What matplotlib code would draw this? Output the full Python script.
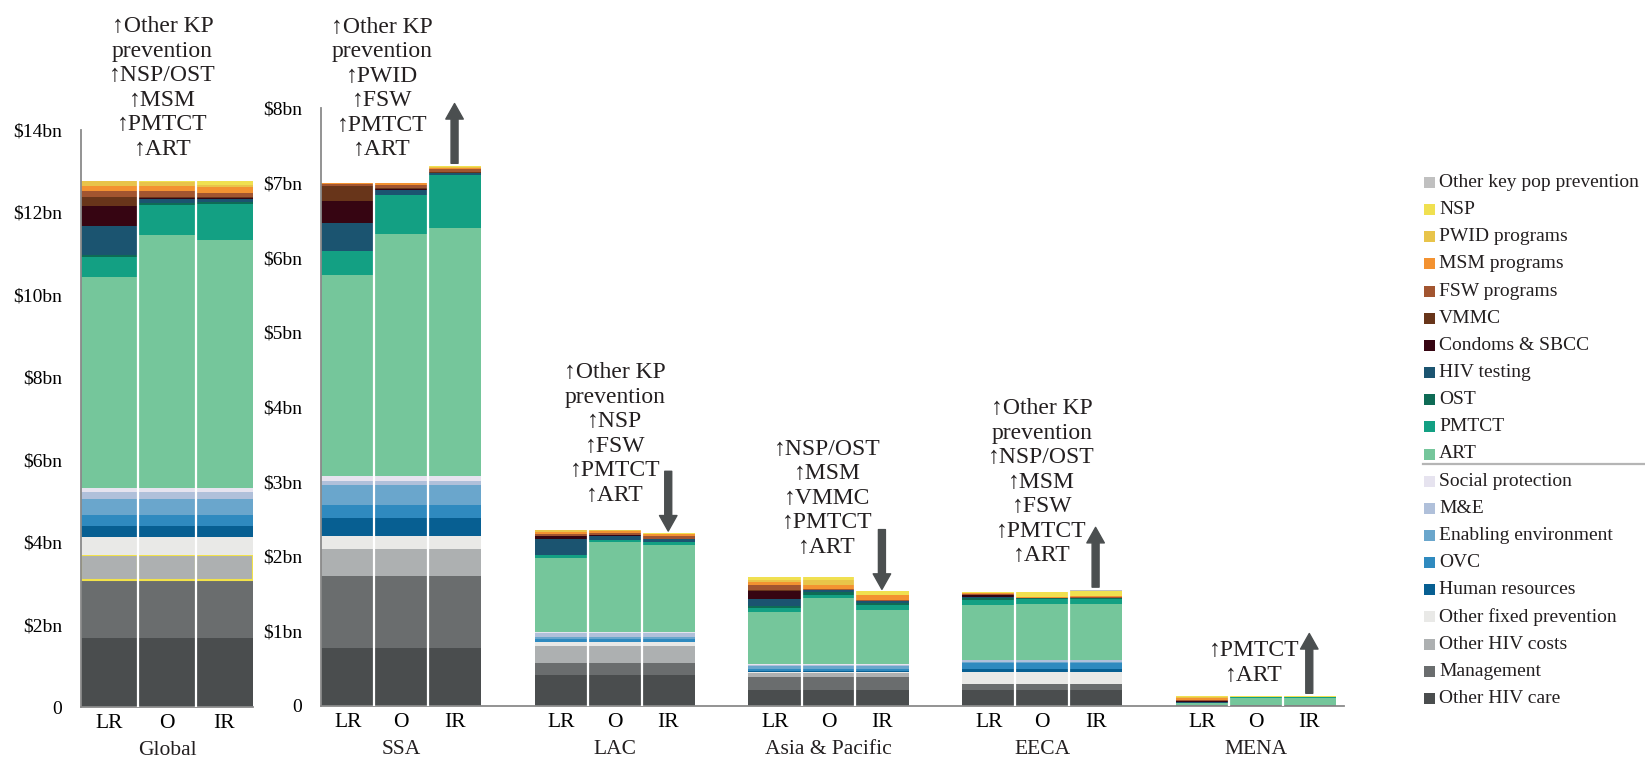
import numpy as np
import matplotlib
matplotlib.use('Agg')
import matplotlib.pyplot as plt
from matplotlib.patches import Rectangle
from matplotlib.lines import Line2D

plt.rcParams['font.family'] = ['Liberation Serif', 'DejaVu Serif']
plt.rcParams['text.color'] = '#231f20'

# categories, bottom of the stack first
fixed_labels = ['Other HIV care', 'Management', 'Other HIV costs', 'Other fixed prevention',
                'Human resources', 'OVC', 'Enabling environment', 'M&E', 'Social protection']
prog_labels = ['ART', 'PMTCT', 'OST', 'HIV testing', 'Condoms & SBCC', 'VMMC',
               'FSW programs', 'MSM programs', 'PWID programs', 'NSP', 'Other key pop prevention']

fixed_colors = ['#4a4d4e', '#6a6d6e', '#adb0b1', '#e9e9e7', '#075f92', '#2f8abf',
                '#6aa6cc', '#b0c0da', '#e6e3ef']
prog_colors = ['#75c69b', '#13a083', '#0e6b55', '#1b5470', '#360512', '#68351a',
               '#a25530', '#f39231', '#e8c44a', '#f0e050', '#c0c0c0']

scenarios = ['LR', 'O', 'IR']
regions = ['SSA', 'LAC', 'Asia & Pacific', 'EECA', 'MENA']

# $bn, fixed costs are the same in LR, O and IR
global_fixed = [1.68, 1.40, 0.62, 0.42, 0.27, 0.28, 0.37, 0.17, 0.11]
global_lr = [5.11, 0.50, 0.04, 0.69, 0.50, 0.21, 0.14, 0.12, 0.14, 0.00, 0.00]
global_o = [6.13, 0.72, 0.06, 0.09, 0.02, 0.03, 0.14, 0.14, 0.08, 0.04, 0.00]
global_ir = [6.01, 0.88, 0.05, 0.07, 0.02, 0.03, 0.09, 0.14, 0.06, 0.10, 0.00]

ssa_fixed = [0.78, 0.96, 0.36, 0.18, 0.23, 0.18, 0.26, 0.06, 0.07]
ssa_lr = [2.68, 0.33, 0.00, 0.37, 0.29, 0.21, 0.02, 0.01, 0.00, 0.00, 0.01]
ssa_o = [3.23, 0.53, 0.00, 0.06, 0.01, 0.02, 0.04, 0.02, 0.00, 0.00, 0.00]
ssa_ir = [3.31, 0.71, 0.00, 0.03, 0.00, 0.02, 0.03, 0.02, 0.01, 0.01, 0.00]

lac_fixed = [0.42, 0.16, 0.22, 0.05, 0.01, 0.03, 0.03, 0.05, 0.02]
lac_lr = [0.99, 0.04, 0.00, 0.21, 0.05, 0.00, 0.02, 0.03, 0.02, 0.01, 0.00]
lac_o = [1.20, 0.03, 0.00, 0.06, 0.01, 0.00, 0.03, 0.02, 0.01, 0.01, 0.00]
lac_ir = [1.17, 0.04, 0.00, 0.04, 0.00, 0.00, 0.03, 0.03, 0.00, 0.02, 0.00]

asia_fixed = [0.22, 0.17, 0.05, 0.02, 0.01, 0.03, 0.03, 0.02, 0.01]
asia_lr = [0.70, 0.05, 0.03, 0.09, 0.11, 0.01, 0.07, 0.04, 0.03, 0.03, 0.00]
asia_o = [0.89, 0.03, 0.05, 0.02, 0.00, 0.00, 0.02, 0.05, 0.06, 0.04, 0.00]
asia_ir = [0.73, 0.06, 0.03, 0.02, 0.00, 0.00, 0.02, 0.06, 0.00, 0.06, 0.00]

eeca_fixed = [0.21, 0.08, 0.01, 0.16, 0.03, 0.09, 0.01, 0.02, 0.01]
eeca_lr = [0.73, 0.07, 0.02, 0.02, 0.03, 0.00, 0.01, 0.01, 0.00, 0.02, 0.00]
eeca_o = [0.74, 0.07, 0.01, 0.00, 0.00, 0.00, 0.01, 0.01, 0.00, 0.07, 0.00]
eeca_ir = [0.74, 0.07, 0.02, 0.00, 0.00, 0.00, 0.01, 0.01, 0.00, 0.07, 0.01]

mena_fixed = [0.010, 0.005, 0.0, 0.0, 0.0, 0.0, 0.0, 0.0, 0.0]
mena_lr = [0.025, 0.000, 0.0, 0.010, 0.020, 0.0, 0.015, 0.020, 0.015, 0.010, 0.0]
mena_o = [0.095, 0.010, 0.0, 0.000, 0.000, 0.0, 0.000, 0.005, 0.000, 0.005, 0.0]
mena_ir = [0.090, 0.015, 0.0, 0.000, 0.000, 0.0, 0.000, 0.005, 0.000, 0.005, 0.0]

# notes above each group
global_note = '↑Other KP\nprevention\n↑NSP/OST\n↑MSM\n↑PMTCT\n↑ART'
region_notes = ['↑Other KP\nprevention\n↑PWID\n↑FSW\n↑PMTCT\n↑ART',
                '↑Other KP\nprevention\n↑NSP\n↑FSW\n↑PMTCT\n↑ART',
                '↑NSP/OST\n↑MSM\n↑VMMC\n↑PMTCT\n↑ART',
                '↑Other KP\nprevention\n↑NSP/OST\n↑MSM\n↑FSW\n↑PMTCT\n↑ART',
                '↑PMTCT\n↑ART']
# direction of the big arrow on IR (+1 up, -1 down)
arrow_dir = [1, -1, -1, 1, 1]

region_data = [(ssa_fixed, [ssa_lr, ssa_o, ssa_ir]),
               (lac_fixed, [lac_lr, lac_o, lac_ir]),
               (asia_fixed, [asia_lr, asia_o, asia_ir]),
               (eeca_fixed, [eeca_lr, eeca_o, eeca_ir]),
               (mena_fixed, [mena_lr, mena_o, mena_ir])]

colors = fixed_colors + prog_colors
labels = fixed_labels + prog_labels
W, H = 1645, 762
dark = '#4b4f50'


def draw_group(ax, x0, fixed, runs, outline_costs=False):
    stacks = np.array([list(fixed) + list(r) for r in runs])   # 3 x 20
    xs = x0 + np.arange(3)
    bottom = np.zeros(3)
    for k in range(stacks.shape[1]):
        if outline_costs and labels[k] == 'Other HIV costs':
            ax.bar(xs, stacks[:, k], width=1, bottom=bottom, color=colors[k],
                   edgecolor='#f2e24a', linewidth=1.5)
        else:
            ax.bar(xs, stacks[:, k], width=1, bottom=bottom, color=colors[k], linewidth=0)
        bottom += stacks[:, k]
    ax.vlines([x0 + 0.5, x0 + 1.5], 0, [max(bottom[0], bottom[1]), max(bottom[1], bottom[2])],
              color='white', lw=1.6, zorder=3)
    return bottom


def style(ax):
    for s in ['top', 'right']:
        ax.spines[s].set_visible(False)
    for s in ['left', 'bottom']:
        ax.spines[s].set_color('#8a8a8a')
        ax.spines[s].set_linewidth(1.3)
    ax.tick_params(axis='y', length=0, pad=13.5, labelsize=14)
    ax.tick_params(axis='x', length=0, pad=5, labelsize=15.5)


fig = plt.figure(figsize=(W / 100, H / 100), dpi=100)

# Global panel
ax_g = fig.add_axes([81 / W, 55 / H, 172 / W, 577 / H])
draw_group(ax_g, 0, global_fixed, [global_lr, global_o, global_ir], outline_costs=True)
ax_g.set_xlim(-0.5, 2.5)
ax_g.set_ylim(0, 14)
ax_g.set_yticks(range(0, 15, 2), ['0'] + ['\\$%dbn' % v for v in range(2, 15, 2)])
ax_g.set_xticks([0, 1, 2], scenarios)
style(ax_g)
ax_g.annotate('Global', xy=(1, 0), xycoords=('data', 'axes fraction'), xytext=(0, -31),
              textcoords='offset points', ha='center', va='center', fontsize=15.5)
ax_g.text(0.92, 13.28, global_note, ha='center', va='bottom', fontsize=17, linespacing=1.22)

# regional panels share one scale
ax = fig.add_axes([321 / W, 56 / H, 1023 / W, 598 / H])
ax.set_xlim(-0.5, 18.65)
ax.set_ylim(0, 8)
note_x = [0.64, 5.0, 8.97, 12.99, 16.96]
note_y = [7.30, 2.68, 1.98, 1.87, 0.27]
for g, (fixed, runs) in enumerate(region_data):
    x0 = 4 * g
    tops = draw_group(ax, x0, fixed, runs)
    ax.annotate(regions[g], xy=(x0 + 1, 0), xycoords=('data', 'axes fraction'), xytext=(0, -31),
                textcoords='offset points', ha='center', va='center', fontsize=15.5)
    ax.text(note_x[g], note_y[g], region_notes[g], ha='center', va='bottom', fontsize=17,
            linespacing=1.22)
    gap, length = 0.04, 0.80
    if arrow_dir[g] > 0:
        base, tip = tops[2] + gap, tops[2] + gap + length
    else:
        tip, base = tops[2] + 0.02, tops[2] + 0.02 + length
    ax.annotate('', xy=(x0 + 2, tip), xytext=(x0 + 2, base), annotation_clip=False,
                arrowprops=dict(arrowstyle='simple,head_length=0.8,head_width=0.9,tail_width=0.36',
                                mutation_scale=14, color=dark, shrinkA=0, shrinkB=0))
ax.set_yticks(range(0, 9), ['0'] + ['\\$%dbn' % v for v in range(1, 9)])
ax.set_xticks([4 * g + j for g in range(5) for j in range(3)], scenarios * 5)
style(ax)

# legend, drawn by hand to get the divider line
legend_order = list(range(len(labels)))[::-1]
for i, k in enumerate(legend_order):
    yc = 182.5 + 27.15 * i
    fig.add_artist(Rectangle((1424 / W, 1 - (yc + 5.5) / H), 11 / W, 11 / H,
                             transform=fig.transFigure, color=colors[k], lw=0))
    fig.text(1439 / W, 1 - yc / H, labels[k], va='center', ha='left', fontsize=14)
fig.add_artist(Line2D([1423 / W, 1.0], [1 - 464 / H] * 2, transform=fig.transFigure,
                      color='#b5b5b5', lw=1.6))

fig.savefig('out.png', dpi=100)
